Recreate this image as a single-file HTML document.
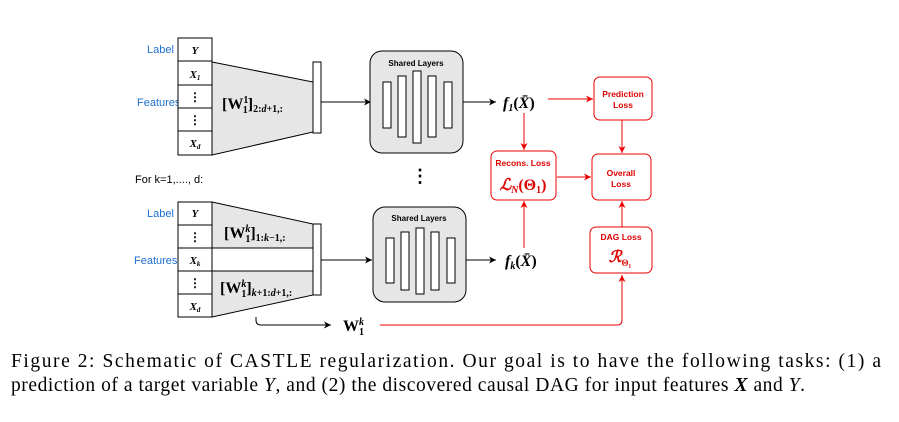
<!DOCTYPE html>
<html><head><meta charset="utf-8"><style>
html,body{margin:0;padding:0;background:#fff;width:899px;height:422px;overflow:hidden}
svg{display:block}
.s{font-family:"Liberation Sans",sans-serif}
.m{font-family:"Liberation Serif",serif;font-weight:bold;font-style:italic}
.b{font-family:"Liberation Serif",serif;font-weight:bold}
</style></head><body>
<svg width="899" height="422" viewBox="0 0 899 422" xmlns="http://www.w3.org/2000/svg">
<defs>
<marker id="ak" markerWidth="8" markerHeight="8" refX="7" refY="4" orient="auto" markerUnits="userSpaceOnUse"><path d="M0,0.5 L7,4 L0,7.5 L2,4z" fill="#000"/></marker>
<marker id="ar" markerWidth="8" markerHeight="8" refX="7" refY="4" orient="auto" markerUnits="userSpaceOnUse"><path d="M0,0.5 L7,4 L0,7.5 L2,4z" fill="#e00"/></marker>
</defs>
<text x="147" y="53" class="s" font-size="11" fill="#1e6fd0">Label</text>
<text x="137" y="106" class="s" font-size="11" fill="#1e6fd0">Features</text>
<polygon points="212,62 313,82 313,132 212,155" fill="#e6e6e6" stroke="#000" stroke-width="1"/>
<g fill="#fff" stroke="#000" stroke-width="1">
<rect x="178" y="38" width="34" height="23"/><rect x="178" y="61" width="34" height="24"/><rect x="178" y="85" width="34" height="23"/><rect x="178" y="108" width="34" height="23"/><rect x="178" y="131" width="34" height="24"/>
<rect x="313" y="62" width="8" height="71"/>
</g>
<text x="195" y="54" class="m" font-size="11" text-anchor="middle">Y</text>
<text x="195" y="78" class="m" font-size="11" text-anchor="middle">X<tspan font-size="7" dy="2">1</tspan></text>
<text x="195" y="101" class="b" font-size="12" text-anchor="middle">⋮</text>
<text x="195" y="124" class="b" font-size="12" text-anchor="middle">⋮</text>
<text x="195" y="147" class="m" font-size="11" text-anchor="middle">X<tspan font-size="7" dy="2">d</tspan></text>
<text x="222" y="109" class="b" font-size="16">[W<tspan font-size="10" dy="-6">1</tspan><tspan font-size="10" dx="-5" dy="10">1</tspan><tspan dy="-4">]</tspan><tspan font-size="10" dy="3">2:<tspan font-style="italic">d</tspan>+1,:</tspan></text>
<line x1="321" y1="102" x2="371" y2="102" stroke="#000" marker-end="url(#ak)"/>
<rect x="370" y="51" width="93" height="102" rx="12" fill="#e6e6e6" stroke="#000"/>
<text x="416" y="66" class="s" font-size="8" font-weight="bold" text-anchor="middle">Shared Layers</text>
<g fill="#fff" stroke="#000">
<rect x="383" y="82" width="8" height="46"/><rect x="398" y="76" width="8" height="61"/><rect x="413" y="71" width="8" height="72"/><rect x="428" y="76" width="8" height="61"/><rect x="444" y="82" width="8" height="46"/>
</g>
<line x1="463" y1="102" x2="496" y2="102" stroke="#000" marker-end="url(#ak)"/>
<text x="503" y="108" class="m" font-size="16">f<tspan font-size="10" dy="3">1</tspan><tspan dy="-3" font-style="normal">(</tspan>X̄<tspan font-style="normal">)</tspan></text>
<text x="420" y="182" class="b" font-size="18" text-anchor="middle">⋮</text>
<text x="135" y="183" class="s" font-size="11">For k=1,...., d:</text>
<text x="147" y="217" class="s" font-size="11" fill="#1e6fd0">Label</text>
<text x="134" y="264" class="s" font-size="11" fill="#1e6fd0">Features</text>
<polygon points="212,202 313,224 313,295 212,317" fill="#e6e6e6" stroke="#000"/>
<rect x="212" y="248" width="101" height="23" fill="#fff" stroke="#000"/>
<g fill="#fff" stroke="#000">
<rect x="178" y="202" width="34" height="23"/><rect x="178" y="225" width="34" height="23"/><rect x="178" y="248" width="34" height="23"/><rect x="178" y="271" width="34" height="23"/><rect x="178" y="294" width="34" height="23"/>
<rect x="313" y="224" width="8" height="71"/>
</g>
<text x="195" y="217" class="m" font-size="11" text-anchor="middle">Y</text>
<text x="195" y="241" class="b" font-size="12" text-anchor="middle">⋮</text>
<text x="195" y="264" class="m" font-size="11" text-anchor="middle">X<tspan font-size="7" dy="2">k</tspan></text>
<text x="195" y="287" class="b" font-size="12" text-anchor="middle">⋮</text>
<text x="195" y="310" class="m" font-size="11" text-anchor="middle">X<tspan font-size="7" dy="2">d</tspan></text>
<text x="224" y="238" class="b" font-size="16">[W<tspan font-size="10" dy="-6" font-style="italic">k</tspan><tspan font-size="10" dx="-5" dy="10">1</tspan><tspan dy="-4">]</tspan><tspan font-size="10" dy="3">1:<tspan font-style="italic">k</tspan>−1,:</tspan></text>
<text x="220" y="293" class="b" font-size="16">[W<tspan font-size="10" dy="-6" font-style="italic">k</tspan><tspan font-size="10" dx="-5" dy="10">1</tspan><tspan dy="-4">]</tspan><tspan font-size="10" dy="3"><tspan font-style="italic">k</tspan>+1:<tspan font-style="italic">d</tspan>+1,:</tspan></text>
<line x1="321" y1="260" x2="372" y2="260" stroke="#000" marker-end="url(#ak)"/>
<rect x="373" y="207" width="93" height="95" rx="12" fill="#e6e6e6" stroke="#000"/>
<text x="419" y="221" class="s" font-size="8" font-weight="bold" text-anchor="middle">Shared Layers</text>
<g fill="#fff" stroke="#000">
<rect x="386" y="238" width="8" height="45"/><rect x="401" y="232" width="8" height="58"/><rect x="416" y="228" width="8" height="66"/><rect x="431" y="232" width="8" height="58"/><rect x="447" y="238" width="8" height="45"/>
</g>
<line x1="466" y1="260" x2="496" y2="260" stroke="#000" marker-end="url(#ak)"/>
<text x="505" y="266" class="m" font-size="16">f<tspan font-size="10" dy="3">k</tspan><tspan dy="-3" font-style="normal">(</tspan>X̄<tspan font-style="normal">)</tspan></text>
<path d="M256,317 V320 Q256,325 261,325 H331" fill="none" stroke="#000" marker-end="url(#ak)"/>
<text x="343" y="331" class="b" font-size="16">W<tspan font-size="10" dy="-6" font-style="italic">k</tspan><tspan font-size="10" dx="-5" dy="10">1</tspan></text>
<g stroke="#e00" fill="none">
<path d="M380,325 H617 Q622,325 622,320 V275" marker-end="url(#ar)"/>
<line x1="548" y1="99" x2="593" y2="99" marker-end="url(#ar)"/>
<line x1="524" y1="113" x2="524" y2="150" marker-end="url(#ar)"/>
<line x1="524" y1="248" x2="524" y2="201" marker-end="url(#ar)"/>
<line x1="557" y1="177" x2="591" y2="177" marker-end="url(#ar)"/>
<line x1="622" y1="120" x2="622" y2="153" marker-end="url(#ar)"/>
<line x1="622" y1="227" x2="622" y2="201" marker-end="url(#ar)"/>
<rect x="594" y="77" width="58" height="43" rx="6" fill="#fff"/>
<rect x="491" y="151" width="65" height="49" rx="6" fill="#fff"/>
<rect x="592" y="154" width="59" height="46" rx="6" fill="#fff"/>
<rect x="590" y="227" width="62" height="46" rx="6" fill="#fff"/>
</g>
<g class="s" font-size="8.5" font-weight="bold" fill="#d00" text-anchor="middle">
<text x="623" y="97">Prediction</text><text x="623" y="108">Loss</text>
<text x="523" y="166">Recons. Loss</text>
<text x="621" y="176">Overall</text><text x="621" y="187">Loss</text>
<text x="621" y="240">DAG Loss</text>
</g>
<text x="523" y="190" class="m" font-size="16" fill="#d00" text-anchor="middle">ℒ<tspan font-size="10" dy="3">N</tspan><tspan dy="-3" font-style="normal">(Θ</tspan><tspan font-size="10" dy="3" font-style="normal">1</tspan><tspan dy="-3" font-style="normal">)</tspan></text>
<text x="620" y="262" class="m" font-size="16" fill="#d00" text-anchor="middle">ℛ<tspan font-size="9" dy="4" font-style="normal">Θ₁</tspan></text>
<text x="11" y="367" font-family="Liberation Serif,serif" font-size="19.5" textLength="870" lengthAdjust="spacing">Figure 2:  Schematic of CASTLE regularization.  Our goal is to have the following tasks: (1) a</text>
<text x="11" y="391" font-family="Liberation Serif,serif" font-size="19.5" textLength="794" lengthAdjust="spacing">prediction of a target variable <tspan font-style="italic">Y</tspan>, and (2) the discovered causal DAG for input features <tspan font-weight="bold" font-style="italic">X</tspan> and <tspan font-style="italic">Y</tspan>.</text>
</svg>
</body></html>
